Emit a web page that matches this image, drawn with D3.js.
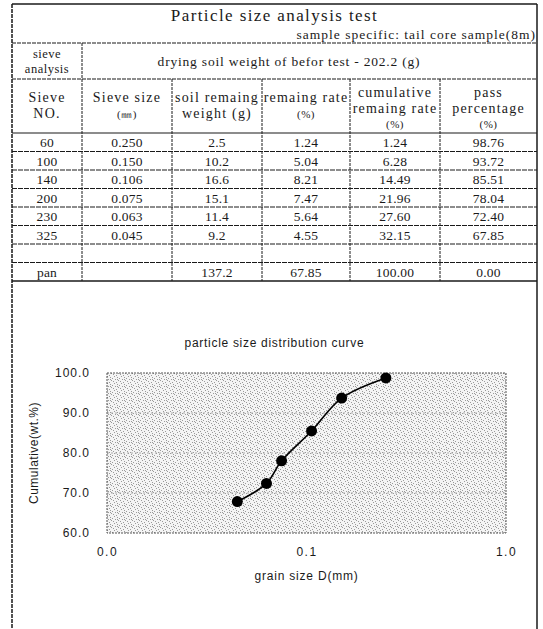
<!DOCTYPE html>
<html>
<head>
<meta charset="utf-8">
<script src="https://cdn.jsdelivr.net/npm/d3@7"></script>
<style>
html,body{margin:0;padding:0;background:#fff;}
svg{display:block;}
</style>
</head>
<body>
<svg id="chart" width="543" height="629"></svg>
<script>
// ---- data ----
const sieveNo = ["60", "100", "140", "200", "230", "325"];
const sieveSize = [0.250, 0.150, 0.106, 0.075, 0.063, 0.045];
const soilWeight = [2.5, 10.2, 16.6, 15.1, 11.4, 9.2];
const remainRate = [1.24, 5.04, 8.21, 7.47, 5.64, 4.55];
const cumRate = [1.24, 6.28, 14.49, 21.96, 27.60, 32.15];
const passPct = [98.76, 93.72, 85.51, 78.04, 72.40, 67.85];
const panRow = ["pan", "", "137.2", "67.85", "100.00", "0.00"];
const headers = [["Sieve", "NO."], ["Sieve size", "(㎜)"], ["soil remaing", "weight (g)"], ["remaing rate", "(%)"], ["cumulative", "remaing rate", "(%)"], ["pass", "percentage", "(%)"]];
const xTickValues = [0.01, 0.1, 1];
const xTickLabels = ["0.0", "0.1", "1.0"];
const yTickValues = [60, 70, 80, 90, 100];

const svg = d3.select("#chart");
const serif = "'Liberation Serif','DejaVu Serif',serif";
const sans = "'Liberation Sans','DejaVu Sans',sans-serif";
const ink = "#1a1a1a";

// ---- table geometry ----
const L = 12, R = 537, T = 4;
const yTitleB = 43, yRow2B = 79, yHeadB = 133, rowH = 18.5;
const cols = [12, 82, 172, 262, 350, 440, 537];
const nRows = sieveNo.length + 2;
const yTableB = yHeadB + nRows * rowH;

const g = svg.append("g");
function hline(y, x1, x2, dash, w) {
  g.append("line").attr("x1", x1).attr("x2", x2).attr("y1", y).attr("y2", y)
    .attr("stroke", ink).attr("stroke-width", w || 1).attr("stroke-dasharray", dash || null);
}
function vline(x, y1, y2, dash, w) {
  g.append("line").attr("x1", x).attr("x2", x).attr("y1", y1).attr("y2", y2)
    .attr("stroke", ink).attr("stroke-width", w || 1).attr("stroke-dasharray", dash || null);
}
// outer frame
hline(T, L, R, null, 1.5);
vline(L, T, 629, "4,1", 1.5);
vline(R, T, 629, null, 1.5);
hline(yTitleB, L, R, "4,1", 1.2);
hline(yRow2B, L, R, "4,1", 1.2);
hline(yHeadB, L, R, null, 1.2);
vline(cols[1], yTitleB, yTableB, "3,1", 1);
for (let i = 2; i < 6; i++) vline(cols[i], yRow2B, yTableB, "3,1", 1);
for (let r = 1; r <= nRows; r++) {
  const y = yHeadB + r * rowH;
  hline(y, L, R, r === nRows ? null : "5,1", r === nRows ? 1.3 : 1);
}

function txt(x, y, s, opts) {
  opts = opts || {};
  return g.append("text").attr("x", x).attr("y", y).text(s)
    .attr("font-family", opts.family || serif)
    .attr("font-size", opts.size || 13)
    .attr("letter-spacing", opts.ls || 0)
    .attr("text-anchor", opts.anchor || "middle")
    .attr("fill", ink);
}
txt(274.5, 21, "Particle size analysis test", {size: 17, ls: 1.4});
txt(536, 39, "sample specific: tail core sample(8m)", {size: 13.5, ls: 1});
g.selectAll("text").filter((d, i) => i === 1).attr("text-anchor", "end");
txt(47, 58, "sieve", {size: 12.5, ls: 0.5});
txt(47, 73, "analysis", {size: 12.5, ls: 0.5});
txt(289, 66, "drying soil weight of befor test - 202.2 (g)", {size: 13.5, ls: 0.8});

headers.forEach((h, i) => {
  const cx = (cols[i] + cols[i + 1]) / 2;
  const startY = h.length === 3 ? 97 : 102;
  h.forEach((line, k) => {
    const isPct = line === "(%)" || line === "(㎜)";
    txt(cx, startY + k * 15.5, line, {size: isPct ? 11 : 14, ls: isPct ? 0.5 : 1.2});
  });
});

const rows = sieveNo.map((n, i) => [n, sieveSize[i].toFixed(3), soilWeight[i].toFixed(1), remainRate[i].toFixed(2), cumRate[i].toFixed(2), passPct[i].toFixed(2)]);
rows.push(["", "", "", "", "", ""]);
rows.push(panRow);
rows.forEach((row, r) => {
  const y = yHeadB + r * rowH + rowH / 2 + 5;
  row.forEach((v, c) => {
    if (v === "") return;
    txt((cols[c] + cols[c + 1]) / 2, y, v, {size: 13.5, ls: 0.2});
  });
});

// ---- chart ----
const px0 = 107, px1 = 506, py0 = 373, py1 = 533;
const x = d3.scaleLog().domain([0.01, 1]).range([px0, px1]);
const y = d3.scaleLinear().domain([60, 100]).range([py1, py0]);

const defs = svg.append("defs");
const pat = defs.append("pattern").attr("id", "stip").attr("patternUnits", "userSpaceOnUse")
  .attr("width", 7).attr("height", 7);
pat.append("rect").attr("width", 7).attr("height", 7).attr("fill", "#f4f4f4");
[[0, 0], [3, 1], [6, 2], [1, 3], [4, 4], [2, 5], [5, 6], [5, 1]].forEach(d => {
  pat.append("rect").attr("x", d[0]).attr("y", d[1]).attr("width", 1).attr("height", 1).attr("fill", "#9a9a9a");
});

const cg = svg.append("g");
cg.append("rect").attr("x", px0).attr("y", py0).attr("width", px1 - px0).attr("height", py1 - py0)
  .attr("fill", "url(#stip)");
// gridlines
cg.append("g").selectAll("line").data(yTickValues.slice(1, -1)).join("line")
  .attr("x1", px0).attr("x2", px1).attr("y1", d => y(d)).attr("y2", d => y(d))
  .attr("stroke", "#999").attr("stroke-width", 0.8).attr("stroke-dasharray", "2,2");
cg.append("rect").attr("x", px0).attr("y", py0).attr("width", px1 - px0).attr("height", py1 - py0)
  .attr("fill", "none").attr("stroke", "#555").attr("stroke-width", 1).attr("stroke-dasharray", "2,1");

// axes
const yAxis = d3.axisLeft(y).tickValues(yTickValues).tickFormat(d => d.toFixed(1)).tickSize(0).tickPadding(17);
const ya = cg.append("g").attr("transform", `translate(${px0},0)`).call(yAxis);
ya.select(".domain").remove();
ya.selectAll("text").attr("font-family", sans).attr("font-size", 12).attr("letter-spacing", 1).attr("fill", ink);

const xAxis = d3.axisBottom(x).tickValues(xTickValues).tickFormat((d, i) => xTickLabels[i]).tickSize(0).tickPadding(14);
const xa = cg.append("g").attr("transform", `translate(0,${py1})`).call(xAxis);
xa.select(".domain").remove();
xa.selectAll("text").attr("font-family", sans).attr("font-size", 12).attr("letter-spacing", 1.5).attr("fill", ink);

// titles
cg.append("text").attr("x", 274.5).attr("y", 347).attr("text-anchor", "middle").attr("letter-spacing", 0.7)
  .attr("font-family", sans).attr("font-size", 12).attr("fill", ink).text("particle size distribution curve");
cg.append("text").attr("x", (px0 + px1) / 2).attr("y", 580).attr("text-anchor", "middle").attr("letter-spacing", 0.8)
  .attr("font-family", sans).attr("font-size", 12).attr("fill", ink).text("grain size D(mm)");
cg.append("text").attr("transform", `translate(38,${(py0 + py1) / 2}) rotate(-90)`).attr("text-anchor", "middle")
  .attr("letter-spacing", 0.5)
  .attr("font-family", sans).attr("font-size", 12).attr("fill", ink).text("Cumulative(wt.%)");

// series
const pts = sieveSize.map((s, i) => ({s, p: passPct[i]})).sort((a, b) => a.s - b.s);
const line = d3.line().x(d => x(d.s)).y(d => y(d.p)).curve(d3.curveCatmullRom.alpha(0.5));
cg.append("path").datum(pts).attr("d", line).attr("fill", "none").attr("stroke", "#000").attr("stroke-width", 1.6);
cg.append("g").selectAll("circle").data(pts).join("circle")
  .attr("cx", d => x(d.s)).attr("cy", d => y(d.p)).attr("r", 5.5).attr("fill", "#000");
</script>
</body>
</html>
